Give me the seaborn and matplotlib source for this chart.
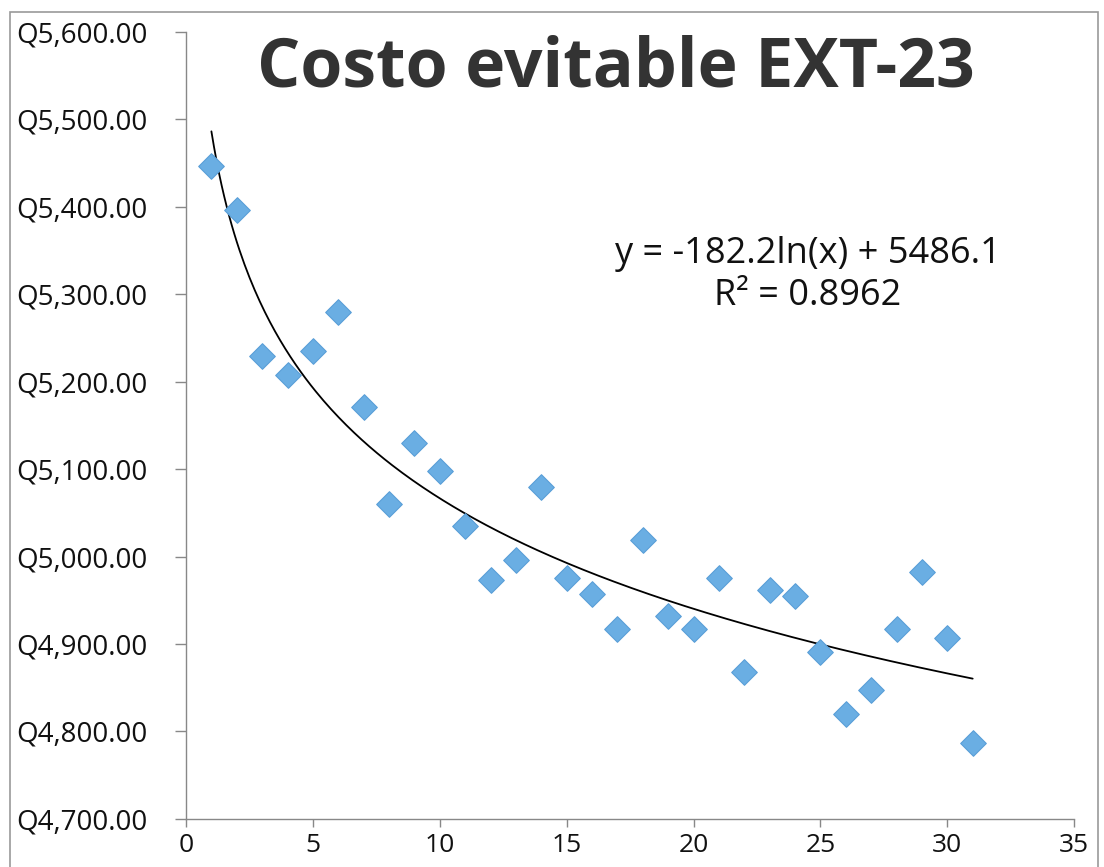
import numpy as np
import pandas as pd
import seaborn as sns
import matplotlib.pyplot as plt
from matplotlib.patches import Rectangle
from matplotlib.ticker import FuncFormatter, MultipleLocator

# data
periodo = list(range(1, 32))
costo = [5446, 5396, 5229, 5207, 5235, 5280, 5171, 5060, 5130, 5098,
         5035, 4973, 4996, 5079, 4975, 4957, 4917, 5019, 4932, 4917,
         4975, 4868, 4962, 4955, 4891, 4820, 4848, 4917, 4982, 4907, 4787]
coef_a = -182.2
coef_b = 5486.1
r2 = 0.8962
titulo = "Costo evitable EXT-23"

sns.set_style("white")
plt.rcParams['font.family'] = ['Open Sans', 'DejaVu Sans']

data = pd.DataFrame({'x': periodo, 'y': costo})
xs = np.linspace(1, 31, 300)
trend = pd.DataFrame({'x': xs, 'y': coef_a * np.log(xs) + coef_b})

fig = plt.figure(figsize=(11.04, 8.67), dpi=100)
ax = fig.add_axes([0.1685, 0.0554, 0.8045, 0.908])

sns.lineplot(data=trend, x='x', y='y', color='black', linewidth=1.3, ax=ax)
sns.scatterplot(data=data, x='x', y='y', marker='D', s=170, color='#6aaee3',
                edgecolor='#5a9fd8', linewidth=0.8, ax=ax, zorder=3)

ax.set_xlim(0, 35)
ax.set_ylim(4700, 5600)
ax.xaxis.set_major_locator(MultipleLocator(5))
ax.yaxis.set_major_locator(MultipleLocator(100))
ax.yaxis.set_major_formatter(FuncFormatter(lambda v, p: f"Q{v:,.2f}"))
ax.set_xlabel('')
ax.set_ylabel('')
sns.despine(ax=ax)
for s in ['left', 'bottom']:
    ax.spines[s].set_color('#888888')
    ax.spines[s].set_linewidth(1.0)
ax.tick_params(axis='y', direction='out', length=8, width=1, color='#888888',
               labelsize=20, pad=20, labelcolor='#111111')
ax.tick_params(axis='x', direction='out', length=6, width=1, color='#888888',
               labelsize=19, pad=4, labelcolor='#111111')
ax.tick_params(left=True, bottom=True)

fig.text(0.558, 0.921, titulo, ha='center', va='center', fontsize=49,
         fontweight='bold', color='#333333')
ax.text(24.5, 5322, f"y = {coef_a}ln(x) + {coef_b}\nR² = {r2}", ha='center',
        va='center', fontsize=26, linespacing=1.2, color='#111111')

fig.patches.append(Rectangle((10 / 1104, -0.05), 1088 / 1104, 1.036, transform=fig.transFigure,
                             fill=False, edgecolor='#999999', linewidth=1.2))

fig.savefig('out.png', dpi=100)
